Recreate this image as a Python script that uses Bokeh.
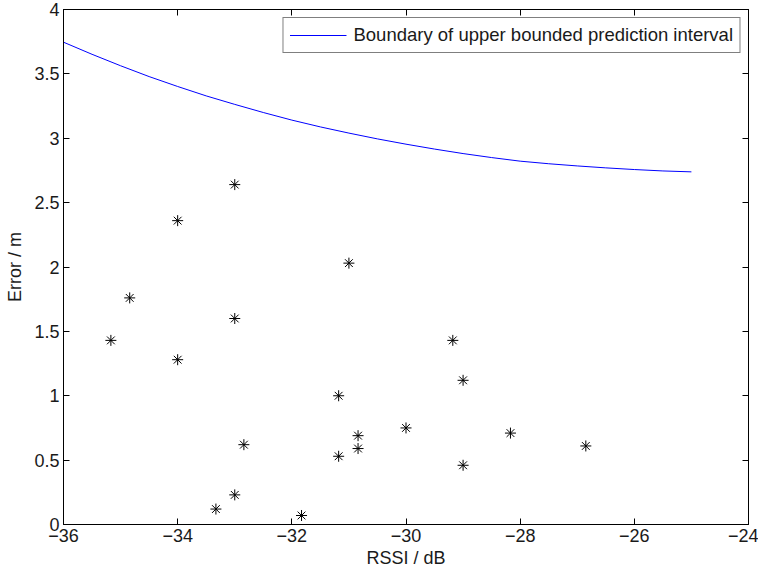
from bokeh.plotting import figure
from bokeh.models import LinearAxis, FixedTicker, Legend, LegendItem, Range1d
from bokeh.embed import file_html
from bokeh.resources import INLINE

# Scatter data: RSSI (dB) vs Error (m)
rssi = [-35.17, -34.84, -34.0, -34.0, -33.0, -33.0, -33.0, -33.33, -32.84,
        -31.83, -31.18, -31.18, -31.0, -30.84, -30.84, -30.0, -29.18, -29.0,
        -29.0, -28.17, -26.85]
error = [1.43, 1.76, 2.36, 1.28, 2.64, 1.60, 0.23, 0.12, 0.62,
         0.07, 1.00, 0.53, 2.03, 0.69, 0.59, 0.75, 1.43, 1.12,
         0.46, 0.71, 0.61]

# Boundary curve
curve_x = [-36, -35.5, -35, -34.5, -34, -33.5, -33, -32.5, -32, -31.5, -31, -30.5,
           -30, -29.5, -29, -28.5, -28, -27.5, -27, -26.5, -26, -25.5, -25]
curve_y = [3.746, 3.652, 3.563, 3.479, 3.402, 3.329, 3.263, 3.200, 3.141, 3.088, 3.040, 2.995,
           2.954, 2.916, 2.881, 2.850, 2.822, 2.802, 2.785, 2.770, 2.757, 2.746, 2.739]

x_ticks = [-36, -34, -32, -30, -28, -26, -24]
x_tick_labels = ["\u221236", "\u221234", "\u221232", "\u221230", "\u221228", "\u221226", "\u221224"]
y_ticks = [0, 0.5, 1, 1.5, 2, 2.5, 3, 3.5, 4]
y_tick_labels = ["0", "0.5", "1", "1.5", "2", "2.5", "3", "3.5", "4"]

legend_label = "Boundary of upper bounded prediction interval"
FONT = "Liberation Sans"
FS = "18px"
TXT = "#1a1a1a"

p = figure(width=758, height=576, output_backend="svg", toolbar_location=None,
           x_range=Range1d(-36, -24), y_range=Range1d(0, 4),
           frame_width=685, frame_height=515,
           min_border_left=63, min_border_right=10, min_border_top=9, min_border_bottom=52)
p.xaxis.visible = False
p.yaxis.visible = False
p.grid.visible = False
p.outline_line_color = "black"
p.background_fill_color = "white"
p.border_fill_color = "white"

def style(ax, show_labels):
    ax.axis_line_color = "black"
    ax.axis_line_width = 1
    ax.major_tick_in = 6
    ax.major_tick_out = 0
    ax.major_tick_line_color = "black"
    ax.minor_tick_line_color = None
    ax.major_label_text_font = FONT
    ax.major_label_text_color = TXT
    ax.major_label_text_font_size = FS
    ax.major_label_standoff = 4 if show_labels else 0

xb = LinearAxis(ticker=FixedTicker(ticks=x_ticks),
                major_label_overrides={t: l for t, l in zip(x_ticks, x_tick_labels)},
                axis_label="RSSI / dB")
style(xb, True)
xb.axis_label_text_font = FONT
xb.axis_label_text_font_size = FS
xb.axis_label_text_font_style = "normal"
xb.axis_label_text_color = TXT
xb.axis_label_standoff = 3
p.add_layout(xb, "below")

yl = LinearAxis(ticker=FixedTicker(ticks=y_ticks),
                major_label_overrides={t: l for t, l in zip(y_ticks, y_tick_labels)},
                axis_label="Error / m")
style(yl, True)
yl.axis_label_text_font = FONT
yl.axis_label_text_font_size = FS
yl.axis_label_text_font_style = "normal"
yl.axis_label_text_color = TXT
yl.axis_label_standoff = 6
p.add_layout(yl, "left")

# mirrored tick marks on top and right (no labels)
xt = LinearAxis(ticker=FixedTicker(ticks=x_ticks),
                major_label_overrides={t: "" for t in x_ticks})
style(xt, False)
p.add_layout(xt, "above")
yr = LinearAxis(ticker=FixedTicker(ticks=y_ticks),
                major_label_overrides={t: "" for t in y_ticks})
style(yr, False)
p.add_layout(yr, "right")

line = p.line(curve_x, curve_y, line_color="#0000ff", line_width=1)
p.scatter(rssi, error, marker="asterisk", size=11, line_color="black", line_width=1)

legend = Legend(items=[LegendItem(label=legend_label, renderers=[line])],
                location="top_right", margin=8, padding=6, spacing=0,
                glyph_width=57, label_standoff=7,
                label_text_font=FONT, label_text_font_size="18.5px",
                label_text_color=TXT,
                border_line_color="black", border_line_width=1,
                background_fill_alpha=1)
p.add_layout(legend)

open("out.html", "w").write(file_html(p, INLINE))
